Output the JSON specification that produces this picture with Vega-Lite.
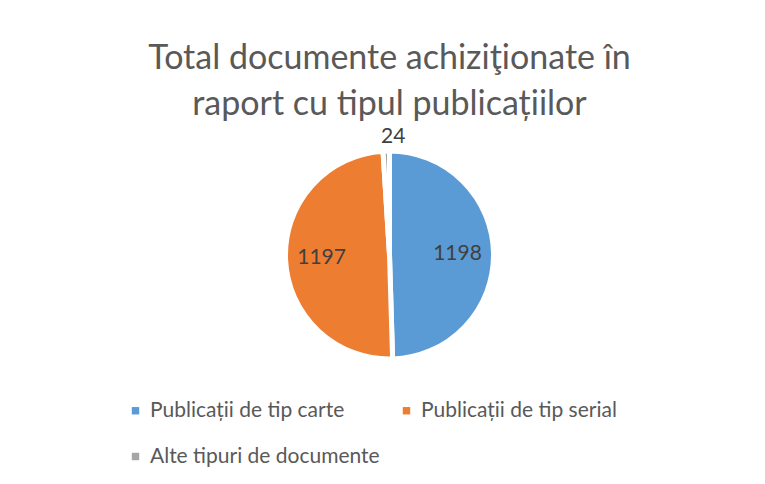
{
  "$schema": "https://vega.github.io/schema/vega-lite/v6.json",
  "width": 765,
  "height": 484,
  "autosize": {"type": "fit", "contains": "padding"},
  "padding": {"top": 58, "bottom": 116, "left": 24, "right": 10},
  "background": "white",
  "title": {
    "text": ["Total documente achiziţionate în", "raport cu tipul publicațiilor"],
    "font": "Lato",
    "fontSize": 34,
    "fontWeight": "normal",
    "color": "#595959",
    "lineHeight": 46,
    "anchor": "middle",
    "offset": 4
  },
  "data": {
    "values": [
      {"tip": "Publicații de tip carte", "valoare": 1198, "ordine": 1},
      {"tip": "Publicații de tip serial", "valoare": 1197, "ordine": 2},
      {"tip": "Alte tipuri de documente", "valoare": 24, "ordine": 3}
    ]
  },
  "encoding": {
    "theta": {"field": "valoare", "type": "quantitative", "stack": true},
    "order": {"field": "ordine", "type": "quantitative"},
    "color": {
      "field": "tip",
      "type": "nominal",
      "sort": ["Publicații de tip carte", "Publicații de tip serial", "Alte tipuri de documente"],
      "scale": {
        "domain": ["Publicații de tip carte", "Publicații de tip serial", "Alte tipuri de documente"],
        "range": ["#5B9BD5", "#ED7D31", "#A5A5A5"]
      },
      "legend": {
        "title": null,
        "orient": "none",
        "legendX": 101,
        "legendY": 258,
        "direction": "horizontal",
        "columns": 2,
        "labelFont": "Lato",
        "labelFontSize": 21,
        "labelColor": "#595959",
        "symbolType": "square",
        "symbolSize": 55,
        "symbolStrokeWidth": 0,
        "columnPadding": 16,
        "rowPadding": 24,
        "labelLimit": 400
      }
    }
  },
  "layer": [
    {
      "mark": {"type": "arc", "outerRadius": 104, "stroke": "white", "strokeWidth": 5}
    },
    {
      "transform": [{"filter": "datum.valoare > 100"}],
      "mark": {"type": "text", "radius": 68, "font": "Lato", "fontSize": 21},
      "encoding": {
        "text": {"field": "valoare", "type": "quantitative"},
        "color": {"value": "#404040"}
      }
    },
    {
      "transform": [{"filter": "datum.valoare <= 100"}],
      "mark": {"type": "text", "radius": 118, "font": "Lato", "fontSize": 21},
      "encoding": {
        "text": {"field": "valoare", "type": "quantitative"},
        "color": {"value": "#404040"}
      }
    }
  ],
  "config": {"view": {"stroke": null}}
}
